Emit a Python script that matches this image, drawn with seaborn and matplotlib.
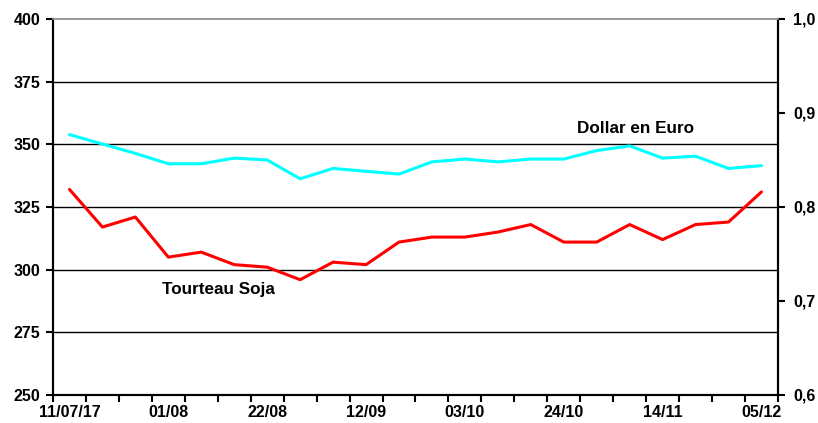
import numpy as np
import pandas as pd
import matplotlib
matplotlib.use("Agg")
import matplotlib.pyplot as plt
import seaborn as sns
from matplotlib.ticker import FixedLocator, FuncFormatter

# --- Data (weekly) ---
weeks = ["11/07/17", "18/07", "25/07", "01/08", "08/08", "15/08", "22/08", "29/08",
         "05/09", "12/09", "19/09", "26/09", "03/10", "10/10", "17/10", "24/10",
         "31/10", "07/11", "14/11", "21/11", "28/11", "05/12"]
tourteau_soja = [332, 317, 321, 305, 307, 302, 301, 296, 303, 302, 311,
                 313, 313, 315, 318, 311, 311, 318, 312, 318, 319, 331]
dollar_euro = [0.877, 0.867, 0.857, 0.846, 0.846, 0.852, 0.850, 0.830, 0.841, 0.838, 0.835,
               0.848, 0.851, 0.848, 0.851, 0.851, 0.860, 0.865, 0.852, 0.854, 0.841, 0.844]
left_ticks = [250, 275, 300, 325, 350, 375, 400]
right_ticks = [0.6, 0.7, 0.8, 0.9, 1.0]

df = pd.DataFrame({"semaine": weeks, "tourteau": tourteau_soja, "dollar": dollar_euro})
df["pos"] = np.arange(len(df))

sns.set_theme(style="white")
plt.rcParams["font.family"] = ["Liberation Sans", "DejaVu Sans"]
plt.rcParams["font.weight"] = "bold"
plt.rcParams["text.color"] = "black"
plt.rcParams["xtick.color"] = "black"
plt.rcParams["ytick.color"] = "black"

fig = plt.figure(figsize=(8.18, 4.23), dpi=100)
ax = fig.add_axes([0.0648, 0.0662, 0.8862, 0.8889])
ax2 = ax.twinx()

# Soybean meal on the left axis
sns.lineplot(data=df, x="pos", y="tourteau", ax=ax, color="#ff0000", linewidth=2.2, zorder=3)
# Dollar in euro on the right axis
sns.lineplot(data=df, x="pos", y="dollar", ax=ax2, color="#00ffff", linewidth=2.2, zorder=3)

ax.set_xlim(-0.5, len(weeks) - 0.5)
ax.set_ylim(250, 400)
ax2.set_ylim(0.6, 1.0)

# horizontal grid lines
for v in left_ticks[1:-1]:
    ax.axhline(v, color="black", linewidth=1, zorder=1)

# x axis: tick marks at week boundaries, labels every 3 weeks
ax.xaxis.set_major_locator(FixedLocator(np.arange(-0.5, len(weeks), 1.0)))
ax.xaxis.set_major_formatter(FuncFormatter(lambda v, p: ""))
label_pos = [i for i in range(len(weeks)) if i % 3 == 0]
ax.xaxis.set_minor_locator(FixedLocator(label_pos))
ax.set_xticklabels([weeks[i] for i in label_pos], minor=True)
ax.tick_params(axis="x", which="major", direction="out", length=5, width=1.5, color="black", bottom=True)
ax.tick_params(axis="x", which="minor", length=0, labelsize=11.5, pad=7, labelcolor="black")
for t in ax.get_xticklabels(minor=True):
    t.set_fontweight("bold")

ax.set_yticks(left_ticks)
ax.tick_params(axis="y", direction="out", length=5, width=1.5, color="black", left=True,
               labelsize=11.5, pad=4, labelcolor="black")
ax2.set_yticks(right_ticks)
ax2.yaxis.set_major_formatter(FuncFormatter(lambda v, p: f"{v:.1f}".replace(".", ",")))
ax2.tick_params(axis="y", direction="out", length=5, width=1.5, color="black", right=True,
                labelsize=11.5, pad=6, labelcolor="black")
for t in ax.get_yticklabels() + ax2.get_yticklabels():
    t.set_fontweight("bold")

ax.set_xlabel("")
ax.set_ylabel("")
ax2.set_ylabel("")

for a in (ax, ax2):
    a.spines["left"].set_color("black")
    a.spines["left"].set_linewidth(1.5)
    a.spines["bottom"].set_color("black")
    a.spines["bottom"].set_linewidth(1.5)
    a.spines["right"].set_color("black")
    a.spines["right"].set_linewidth(1.5)
    a.spines["top"].set_color("#999999")
    a.spines["top"].set_linewidth(1.2)

# series labels
ax.text(2.8, 292, "Tourteau Soja", fontsize=12.3, fontweight="bold", va="center", ha="left", color="black")
ax.text(15.4, 356.5, "Dollar en Euro", fontsize=12.3, fontweight="bold", va="center", ha="left", color="black")

fig.savefig("out.png", dpi=100)
